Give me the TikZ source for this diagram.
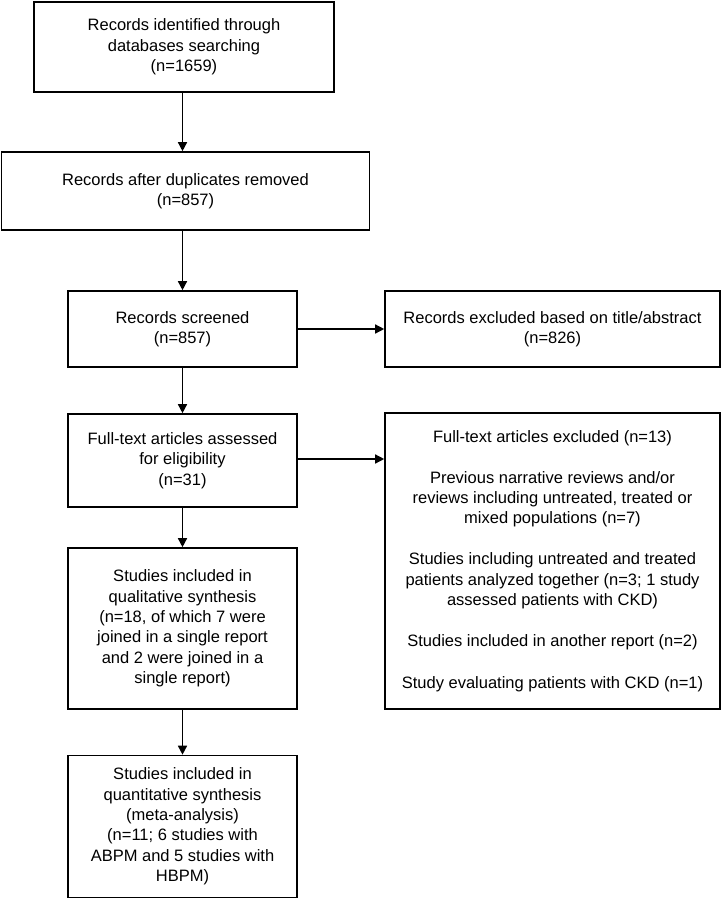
\documentclass[tikz,border=0pt]{standalone}
\usepackage{fontspec}
\setmainfont{Liberation Sans}
\usetikzlibrary{arrows.meta}
\begin{document}
\begin{tikzpicture}[x=1pt,y=-1pt,
  box/.style={draw=black,line width=1.6pt,rectangle,inner sep=0pt,align=center,
    font=\fontsize{16.5}{20.4}\selectfont},
  arr/.style={draw=black,line width=1.4pt,-{Triangle[length=9pt,width=9pt]}}]
\useasboundingbox (0,0) rectangle (723,900);
\node[box,minimum width=300,minimum height=90] (b1) at (184,47)
  {Records identified through\\databases searching\\(n=1659)};
\node[box,minimum width=368,minimum height=78] (b2) at (185.5,191)
  {Records after duplicates removed\\(n=857)};
\node[box,minimum width=229,minimum height=76] (b3) at (182.5,329)
  {Records screened\\(n=857)};
\node[box,minimum width=335,minimum height=76] (b4) at (552.5,329)
  {Records excluded based on title/abstract\\(n=826)};
\node[box,minimum width=229,minimum height=93] (b5) at (182.5,460.5)
  {Full-text articles assessed\\for eligibility\\(n=31)};
\node[box,minimum width=335,minimum height=296] (b6) at (552.5,561)
  {Full-text articles excluded (n=13)\\[20.4pt]
   Previous narrative reviews and/or\\reviews including untreated, treated or\\mixed populations (n=7)\\[20.4pt]
   Studies including untreated and treated\\patients analyzed together (n=3; 1 study\\assessed patients with CKD)\\[20.4pt]
   Studies included in another report (n=2)\\[21.5pt]
   Study evaluating patients with CKD (n=1)};
\node[box,minimum width=229,minimum height=161] (b7) at (182.5,628.5)
  {Studies included in\\qualitative synthesis\\(n=18, of which 7 were\\joined in a single report\\and 2 were joined in a\\single report)};
\node[box,minimum width=229,minimum height=142] (b8) at (182.5,826.5)
  {Studies included in\\quantitative synthesis\\(meta-analysis)\\(n=11; 6 studies with\\ABPM and 5 studies with\\HBPM)};
\draw[arr] (b1.south -| b3) -- (b2.north -| b3);
\draw[arr] (b2.south -| b3) -- (b3.north);
\draw[arr] (b3.east) -- (b4.west);
\draw[arr] (b3.south) -- (b5.north);
\draw[arr] ([yshift=1.5]b5.east) -- ([yshift=1.5]b5.east -| b6.west);
\draw[arr] (b5.south) -- (b7.north);
\draw[arr] (b7.south) -- (b8.north);
\end{tikzpicture}
\end{document}
